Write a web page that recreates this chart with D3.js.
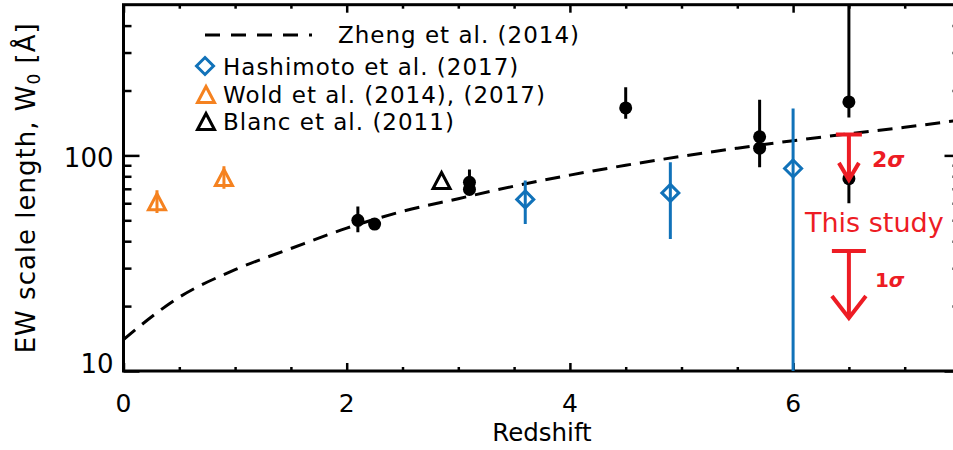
<!DOCTYPE html>
<html>
<head>
<meta charset="utf-8">
<script src="https://cdn.jsdelivr.net/npm/d3@7"></script>
<style>
    body { margin: 0; background: #fff; }
    svg { display: block; font-family: "DejaVu Sans", sans-serif; }
</style>
</head>
<body>
<div id="chart"></div>
<script>
// ---- data ----
// Zheng et al. (2014) relation, sampled along the dashed curve
var zhengZ  = [0, 0.5, 1, 1.5, 2, 2.5, 3, 3.5, 4, 4.5, 5, 5.5, 6, 6.5, 7, 7.5];
var zhengW0 = [14, 22, 29.5, 37, 46, 55, 63, 72, 81, 90, 99, 108, 117, 126, 135, 146];

// filled black circles: redshift, W0, upper end, lower end
var litZ     = [2.10, 2.25, 3.10, 3.10, 4.50, 5.70, 5.70, 6.50, 6.50];
var litW0    = [50,   48,   75,   69.5, 166,  122,  108,  177,  78];
var litUpper = [58,   48,   86,   69.5, 207,  181,  108,  500,  90];
var litLower = [44,   48,   75,   69.5, 148,  122,  88,   150,  60];

// Hashimoto et al. (2017)
var hashZ     = [3.60, 4.90, 6.00];
var hashW0    = [62.5, 67, 87];
var hashUpper = [76.5, 93, 165];
var hashLower = [48, 41, 10];

// Wold et al. (2014), (2017)
var woldZ     = [0.30, 0.90];
var woldW0    = [61, 79];
var woldUpper = [69, 89];
var woldLower = [54, 70];

// Blanc et al. (2011)
var blancZ  = [2.85];
var blancW0 = [76.5];

// This study: upper limits
var limitZ     = [6.5, 6.5];
var limitW0    = [125, 36];
var limitTip   = [77, 17.6];
var limitLabel = ["2", "1"];

// axis ticks
var xMajorTicks = [0, 2, 4, 6];
var xTickLabels = ["0", "2", "4", "6"];
var xMinorTicks = [0.5, 1, 1.5, 2.5, 3, 3.5, 4.5, 5, 5.5, 6.5, 7];
var yMajorTicks = [10, 100];
var yTickLabels = ["10", "100"];
var yMinorTicks = [20, 30, 40, 50, 60, 70, 80, 90, 200, 300, 400];

var legendLabels = ["Zheng et al. (2014)", "Hashimoto et al. (2017)", "Wold et al. (2014), (2017)", "Blanc et al. (2011)"];

// ---- chart ----
var width = 953, height = 450;
var plot = { left: 123.5, right: 960.5, top: 4.7, bottom: 371 };
var blue = "#1172b9", orange = "#f58220", red = "#ed1c24";

var x = d3.scaleLinear().domain([0, 7.5]).range([plot.left, plot.right]);
var y = d3.scaleLog().domain([10, 500]).range([plot.bottom, plot.top]);

var svg = d3.select("#chart").append("svg")
    .attr("width", width)
    .attr("height", height);

svg.append("defs").append("clipPath").attr("id", "plotClip")
    .append("rect")
    .attr("x", plot.left).attr("y", plot.top)
    .attr("width", plot.right - plot.left).attr("height", plot.bottom - plot.top);

// ticks (IDL style, inward, on all four sides)
function tickAxis(axis, values, size, transform) {
    svg.append("g")
        .attr("transform", transform)
        .call(axis.tickValues(values).tickSize(size).tickFormat(""))
        .call(function (g) {
            g.select(".domain").remove();
            g.selectAll(".tick line").attr("stroke", "#000").attr("stroke-width", 2.5);
        });
}
tickAxis(d3.axisBottom(x), xMajorTicks, -8, "translate(0," + plot.bottom + ")");
tickAxis(d3.axisBottom(x), xMinorTicks, -4, "translate(0," + plot.bottom + ")");
tickAxis(d3.axisTop(x), xMajorTicks, -8, "translate(0," + plot.top + ")");
tickAxis(d3.axisTop(x), xMinorTicks, -4, "translate(0," + plot.top + ")");
tickAxis(d3.axisLeft(y), yMajorTicks, -16, "translate(" + plot.left + ",0)");
tickAxis(d3.axisLeft(y), yMinorTicks, -8, "translate(" + plot.left + ",0)");
tickAxis(d3.axisRight(y), yMajorTicks, -16, "translate(" + plot.right + ",0)");
tickAxis(d3.axisRight(y), yMinorTicks, -8, "translate(" + plot.right + ",0)");

// frame
svg.append("rect")
    .attr("x", plot.left).attr("y", plot.top)
    .attr("width", plot.right - plot.left).attr("height", plot.bottom - plot.top)
    .attr("fill", "none").attr("stroke", "#000").attr("stroke-width", 3);

// tick labels
svg.selectAll(".xlab").data(xMajorTicks).enter().append("text")
    .attr("x", function (d) { return x(d); })
    .attr("y", 412)
    .attr("text-anchor", "middle")
    .attr("font-size", 25)
    .text(function (d, i) { return xTickLabels[i]; });

svg.selectAll(".ylab").data(yMajorTicks).enter().append("text")
    .attr("x", plot.left - 10)
    .attr("y", function (d, i) { return y(d) + (i === 0 ? 2 : 12); })
    .attr("text-anchor", "end")
    .attr("font-size", 26)
    .text(function (d, i) { return yTickLabels[i]; });

// axis titles
svg.append("text")
    .attr("x", (plot.left + plot.right) / 2).attr("y", 441)
    .attr("text-anchor", "middle")
    .attr("font-size", 24.5)
    .text("Redshift");

var yTitle = svg.append("text")
    .attr("transform", "translate(35," + ((plot.top + plot.bottom) / 2) + ") rotate(-90)")
    .attr("text-anchor", "middle")
    .attr("font-size", 26)
    .attr("letter-spacing", 1);
yTitle.append("tspan").text("EW scale length, W");
yTitle.append("tspan").attr("font-size", 17).attr("dy", 5).text("0");
yTitle.append("tspan").attr("dy", -5).text(" [Å]");

// data layer
var plotArea = svg.append("g").attr("clip-path", "url(#plotClip)");

// Zheng et al. (2014) curve
var zheng = zhengZ.map(function (z, i) { return [z, zhengW0[i]]; });
plotArea.append("path")
    .datum(zheng)
    .attr("d", d3.line()
        .x(function (d) { return x(d[0]); })
        .y(function (d) { return y(d[1]); })
        .curve(d3.curveMonotoneX))
    .attr("fill", "none")
    .attr("stroke", "#000")
    .attr("stroke-width", 3)
    .attr("stroke-dasharray", "15,9");

function errorBars(zs, ups, lows, color) {
    plotArea.selectAll(null).data(zs).enter().append("line")
        .attr("x1", function (d) { return x(d); })
        .attr("x2", function (d) { return x(d); })
        .attr("y1", function (d, i) { return y(ups[i]); })
        .attr("y2", function (d, i) { return y(lows[i]); })
        .attr("stroke", color)
        .attr("stroke-width", 3);
}

var diamondPath = "M0,-8.5L8.5,0L0,8.5L-8.5,0Z";
var trianglePath = "M0,-8L8.5,8L-8.5,8Z";

errorBars(woldZ, woldUpper, woldLower, orange);
plotArea.selectAll(".wold").data(woldZ).enter().append("path")
    .attr("d", trianglePath)
    .attr("transform", function (d, i) { return "translate(" + x(d) + "," + y(woldW0[i]) + ")"; })
    .attr("fill", "none").attr("stroke", orange).attr("stroke-width", 3);

plotArea.selectAll(".blanc").data(blancZ).enter().append("path")
    .attr("d", trianglePath)
    .attr("transform", function (d, i) { return "translate(" + x(d) + "," + y(blancW0[i]) + ")"; })
    .attr("fill", "none").attr("stroke", "#000").attr("stroke-width", 3);

errorBars(hashZ, hashUpper, hashLower, blue);
plotArea.selectAll(".hash").data(hashZ).enter().append("path")
    .attr("d", diamondPath)
    .attr("transform", function (d, i) { return "translate(" + x(d) + "," + y(hashW0[i]) + ")"; })
    .attr("fill", "none").attr("stroke", blue).attr("stroke-width", 3);

errorBars(litZ, litUpper, litLower, "#000");
plotArea.selectAll(".lit").data(litZ).enter().append("circle")
    .attr("cx", function (d) { return x(d); })
    .attr("cy", function (d, i) { return y(litW0[i]); })
    .attr("r", 6.5)
    .attr("fill", "#000");

// This study: upper-limit arrows
var barHalf = [13, 17], headHalf = [10, 17], headLen = [17, 22];
var labelSize = [22, 20], labelDx = [23, 26], labelDy = [32, 36];
limitZ.forEach(function (z, i) {
    var cx = x(z), top = y(limitW0[i]), tip = y(limitTip[i]);
    var g = svg.append("g").attr("stroke", red).attr("stroke-width", 4).attr("fill", "none");
    g.append("line").attr("x1", cx - barHalf[i]).attr("x2", cx + barHalf[i]).attr("y1", top).attr("y2", top);
    g.append("line").attr("x1", cx).attr("x2", cx).attr("y1", top).attr("y2", tip);
    g.append("path")
        .attr("d", "M" + (cx - headHalf[i]) + "," + (tip - headLen[i]) + "L" + cx + "," + tip + "L" + (cx + headHalf[i]) + "," + (tip - headLen[i]));
    var t = svg.append("text")
        .attr("x", cx + labelDx[i]).attr("y", top + labelDy[i])
        .attr("font-size", labelSize[i])
        .attr("font-weight", "bold")
        .attr("fill", red);
    t.append("tspan").text(limitLabel[i]);
    t.append("tspan").attr("font-style", "italic").text("σ");
});
svg.append("text")
    .attr("x", 805).attr("y", 231.7)
    .attr("font-size", 27)
    .attr("fill", red)
    .text("This study");

// legend
var legend = svg.append("g").attr("font-size", 23).attr("letter-spacing", 1);
legend.append("line")
    .attr("x1", 205).attr("x2", 312).attr("y1", 35).attr("y2", 35)
    .attr("stroke", "#000").attr("stroke-width", 3).attr("stroke-dasharray", "15,11");
legend.append("text").attr("x", 338).attr("y", 43).text(legendLabels[0]);
legend.append("path").attr("d", diamondPath).attr("transform", "translate(205,66)")
    .attr("fill", "none").attr("stroke", blue).attr("stroke-width", 3);
legend.append("text").attr("x", 223).attr("y", 75).text(legendLabels[1]);
legend.append("path").attr("d", trianglePath).attr("transform", "translate(206,94.5)")
    .attr("fill", "none").attr("stroke", orange).attr("stroke-width", 3);
legend.append("text").attr("x", 223).attr("y", 102.7).text(legendLabels[2]);
legend.append("path").attr("d", trianglePath).attr("transform", "translate(206,121.5)")
    .attr("fill", "none").attr("stroke", "#000").attr("stroke-width", 3);
legend.append("text").attr("x", 223).attr("y", 130).text(legendLabels[3]);
</script>
</body>
</html>
